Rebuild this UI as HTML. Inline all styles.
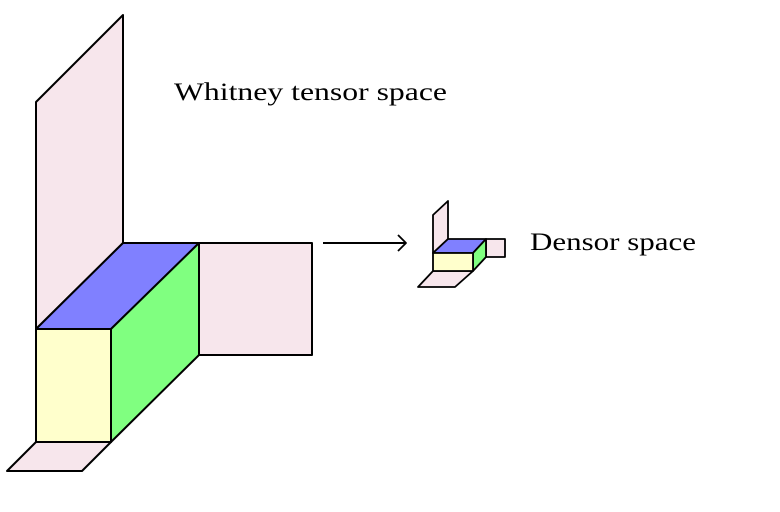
<!DOCTYPE html>
<html><head><style>
html,body{margin:0;padding:0;background:#fff;width:780px;height:512px;overflow:hidden}
svg{display:block}
text{font-family:"Liberation Serif",serif;font-size:25px;fill:#000}
</style></head><body>
<svg width="780" height="512" viewBox="0 0 780 512" xmlns="http://www.w3.org/2000/svg">
<g stroke="#000" stroke-width="2" stroke-linejoin="round">
<polygon points="36,102 123,15 123,243 36,329" fill="#f7e6ec"/>
<polygon points="199,243 312,243 312,355 199,355" fill="#f7e6ec"/>
<polygon points="36,442 111,442 82,471 7,471" fill="#f7e6ec"/>
<polygon points="36,329 123,243 199,243 111,329" fill="#8080ff"/>
<polygon points="111,329 199,243 199,355 111,442" fill="#80ff80"/>
<rect x="36" y="329" width="75" height="113" fill="#ffffcc"/>
<line x1="323" y1="243" x2="405" y2="243"/>
<polyline points="398,235 406,243 398,251" fill="none" stroke-width="1.8"/>
<g stroke-width="1.8">
<polygon points="433,215 448,201 448,239 433,253" fill="#f7e6ec"/>
<polygon points="486,239 505,239 505,257 486,257" fill="#f7e6ec"/>
<polygon points="433,271 473,271 455,287 418,287" fill="#f7e6ec"/>
<polygon points="433,253 448,239 486,239 473,253" fill="#8080ff"/>
<polygon points="473,253 486,239 486,257 473,271" fill="#80ff80"/>
<rect x="433" y="253" width="40" height="18" fill="#ffffcc"/>
</g>
</g>
<text x="174" y="100" textLength="273" lengthAdjust="spacingAndGlyphs">Whitney tensor space</text>
<text x="530" y="250" textLength="166" lengthAdjust="spacingAndGlyphs">Densor space</text>
</svg>
</body></html>
